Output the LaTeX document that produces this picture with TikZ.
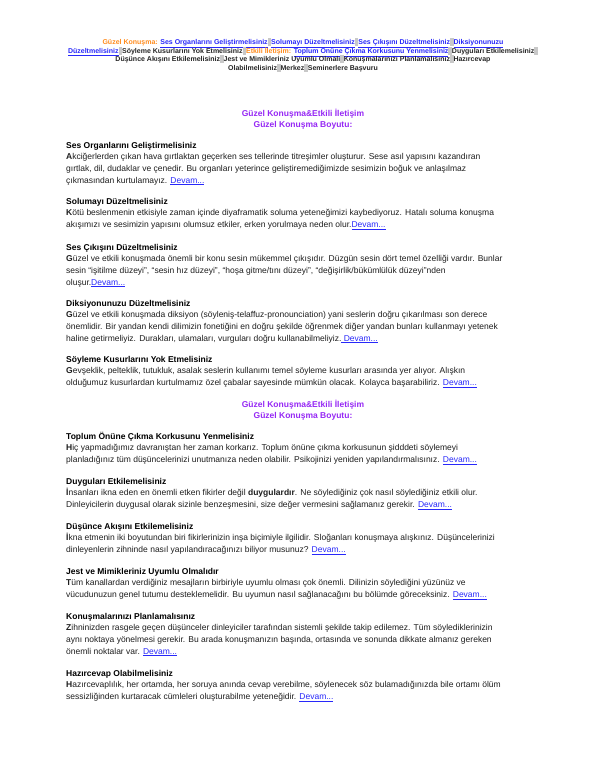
\documentclass[tikz,border=0pt]{standalone}
\usepackage{fontspec}
\setmainfont{Liberation Sans}
\definecolor{bodytext}{RGB}{30,30,30}
\definecolor{ttlpurple}{RGB}{150,40,245}
\definecolor{linkblue}{RGB}{40,40,250}
\definecolor{navorange}{RGB}{255,140,30}
\definecolor{navgray}{RGB}{200,200,200}
\newcommand\HdTxt[1]{\textbf{\textcolor{black}{#1}}}
\newcommand\DevamLink{\textcolor{linkblue}{\underline{Devam...}}}
\newcommand\NavLink[1]{\textcolor{linkblue}{\underline{#1}}}
\newcommand\NavOrg[1]{\textcolor{navorange}{#1}}
\newcommand\NavSep{{\color{navgray}\rule[-1.4pt]{3.5pt}{8pt}}}
\tikzset{
  sec/.style={anchor=north west, inner sep=0pt, align=left, text=bodytext,
    font=\fontsize{8.5}{11.6}\selectfont},
  ttl/.style={anchor=north, inner sep=0pt, align=center, text=ttlpurple,
    font=\fontsize{8.5}{11}\selectfont\bfseries},
  nav/.style={anchor=base, inner sep=0pt, text=black!85,
    font=\fontsize{7}{8.6}\selectfont\bfseries},
}
\begin{document}
\begin{tikzpicture}[x=1pt,y=-1pt]
\useasboundingbox[fill=white] (0,0) rectangle (600,776);
% navigation bar
\node[nav] (nav1) at (303,44.5) {\NavOrg{Güzel Konuşma:} \NavLink{Ses Organlarını Geliştirmelisiniz}\NavSep\NavLink{Solumayı Düzeltmelisiniz}\NavSep\NavLink{Ses Çıkışını Düzeltmelisiniz}\NavSep\NavLink{Diksiyonunuzu}};
\node[nav] (nav2) at (303,53.3) {\NavLink{Düzeltmelisiniz}\NavSep Söyleme Kusurlarını Yok Etmelisiniz\NavSep\NavOrg{Etkili İletişim:} \NavLink{Toplum Önüne Çıkma Korkusunu Yenmelisiniz}\NavSep Duyguları Etkilemelisiniz\NavSep};
\node[nav] (nav3) at (303,61.8) {Düşünce Akışını Etkilemelisiniz\NavSep Jest ve Mimikleriniz Uyumlu Olmalı\NavSep Konuşmalarınızı Planlamalısınız\NavSep Hazırcevap};
\node[nav] (nav4) at (303,70.5) {Olabilmelisiniz\NavSep Merkez\NavSep Seminerlere Başvuru};
% first title
\node[ttl] (title1) at (303,108.5) {\strut Güzel Konuşma\&Etkili İletişim\\Güzel Konuşma Boyutu:};
% sections
\node[sec] (s1) at (66,140) {\strut\HdTxt{Ses Organlarını Geliştirmelisiniz}\\
\textbf{A}kciğerlerden çıkan hava gırtlaktan geçerken ses tellerinde titreşimler oluşturur. Sese asıl yapısını kazandıran\\
gırtlak, dil, dudaklar ve çenedir. Bu organları yeterince geliştiremediğimizde sesimizin boğuk ve anlaşılmaz\\
çıkmasından kurtulamayız. \DevamLink};
\node[sec] (s2) at (66,196) {\strut\HdTxt{Solumayı Düzeltmelisiniz}\\
\textbf{K}ötü beslenmenin etkisiyle zaman içinde diyaframatik soluma yeteneğimizi kaybediyoruz. Hatalı soluma konuşma\\
akışımızı ve sesimizin yapısını olumsuz etkiler, erken yorulmaya neden olur.\DevamLink};
\node[sec] (s3) at (66,242) {\strut\HdTxt{Ses Çıkışını Düzeltmelisiniz}\\
\textbf{G}üzel ve etkili konuşmada önemli bir konu sesin mükemmel çıkışıdır. Düzgün sesin dört temel özelliği vardır. Bunlar\\
sesin “işitilme düzeyi”, “sesin hız düzeyi”, “hoşa gitme/tını düzeyi”, “değişirlik/bükümlülük düzeyi”nden\\
oluşur.\DevamLink};
\node[sec] (s4) at (66,298) {\strut\HdTxt{Diksiyonunuzu Düzeltmelisiniz}\\
\textbf{G}üzel ve etkili konuşmada diksiyon (söyleniş-telaffuz-pronounciation) yani seslerin doğru çıkarılması son derece\\
önemlidir. Bir yandan kendi dilimizin fonetiğini en doğru şekilde öğrenmek diğer yandan bunları kullanmayı yetenek\\
haline getirmeliyiz. Durakları, ulamaları, vurguları doğru kullanabilmeliyiz.\textcolor{linkblue}{\underline{ Devam...}}};
\node[sec] (s5) at (66,354) {\strut\HdTxt{Söyleme Kusurlarını Yok Etmelisiniz}\\
\textbf{G}evşeklik, pelteklik, tutukluk, asalak seslerin kullanımı temel söyleme kusurları arasında yer alıyor. Alışkın\\
olduğumuz kusurlardan kurtulmamız özel çabalar sayesinde mümkün olacak. Kolayca başarabiliriz. \DevamLink};
% second title
\node[ttl] (title2) at (303,399.5) {\strut Güzel Konuşma\&Etkili İletişim\\Güzel Konuşma Boyutu:};
\node[sec] (s6) at (66,431) {\strut\HdTxt{Toplum Önüne Çıkma Korkusunu Yenmelisiniz}\\
\textbf{H}iç yapmadığımız davranıştan her zaman korkarız. Toplum önüne çıkma korkusunun şidddeti söylemeyi\\
planladığınız tüm düşüncelerinizi unutmanıza neden olabilir. Psikojinizi yeniden yapılandırmalısınız. \DevamLink};
\node[sec] (s7) at (66,476) {\strut\HdTxt{Duyguları Etkilemelisiniz}\\
\textbf{İ}nsanları ikna eden en önemli etken fikirler değil \textbf{duygulardır}. Ne söylediğiniz çok nasıl söylediğiniz etkili olur.\\
Dinleyicilerin duygusal olarak sizinle benzeşmesini, size değer vermesini sağlamanız gerekir. \DevamLink};
\node[sec] (s8) at (66,521) {\strut\HdTxt{Düşünce Akışını Etkilemelisiniz}\\
\textbf{İ}kna etmenin iki boyutundan biri fikirlerinizin inşa biçimiyle ilgilidir. Sloğanları konuşmaya alışkınız. Düşüncelerinizi\\
dinleyenlerin zihninde nasıl yapılandıracağınızı biliyor musunuz? \DevamLink};
\node[sec] (s9) at (66,566) {\strut\HdTxt{Jest ve Mimikleriniz Uyumlu Olmalıdır}\\
\textbf{T}üm kanallardan verdiğiniz mesajların birbiriyle uyumlu olması çok önemli. Dilinizin söylediğini yüzünüz ve\\
vücudunuzun genel tutumu desteklemelidir. Bu uyumun nasıl sağlanacağını bu bölümde göreceksiniz. \DevamLink};
\node[sec] (s10) at (66,611) {\strut\HdTxt{Konuşmalarınızı Planlamalısınız}\\
\textbf{Z}ihninizden rasgele geçen düşünceler dinleyiciler tarafından sistemli şekilde takip edilemez. Tüm söylediklerinizin\\
aynı noktaya yönelmesi gerekir. Bu arada konuşmanızın başında, ortasında ve sonunda dikkate almanız gereken\\
önemli noktalar var. \DevamLink};
\node[sec] (s11) at (66,668) {\strut\HdTxt{Hazırcevap Olabilmelisiniz}\\
\textbf{H}azırcevaplılık, her ortamda, her soruya anında cevap verebilme, söylenecek söz bulamadığınızda bile ortamı ölüm\\
sessizliğinden kurtaracak cümleleri oluşturabilme yeteneğidir. \DevamLink};
\end{tikzpicture}
\end{document}
